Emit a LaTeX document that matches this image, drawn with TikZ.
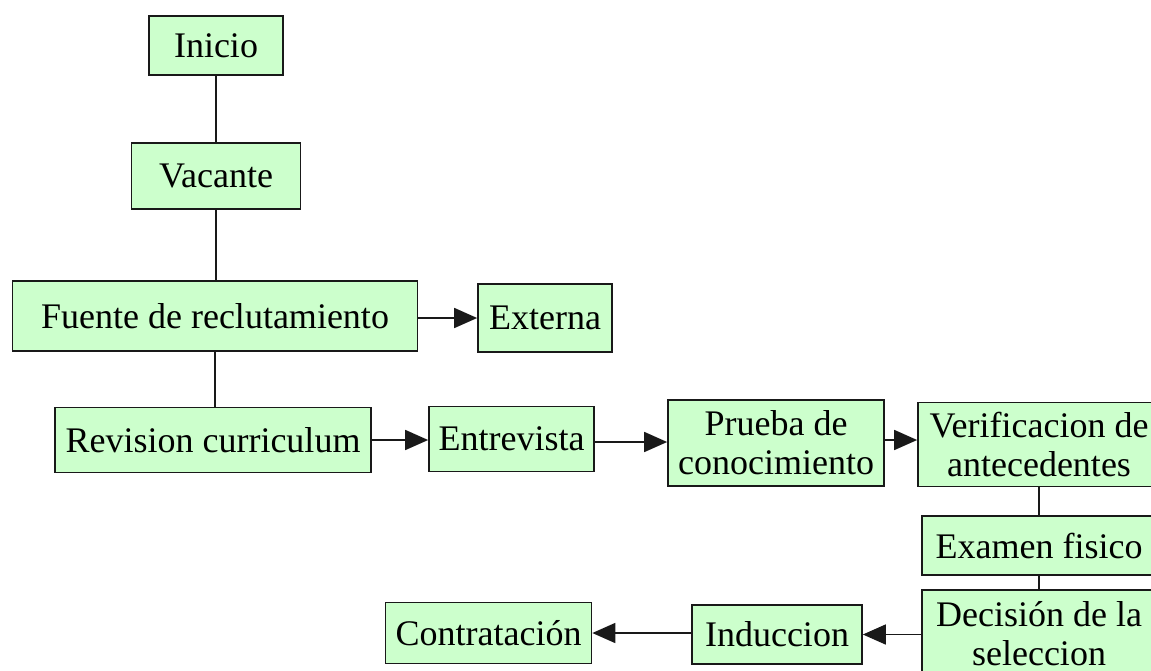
\documentclass[tikz,border=0pt]{standalone}
\usepackage{fontspec}
\setmainfont{Liberation Serif}
\usetikzlibrary{arrows.meta,positioning}
\definecolor{fGreen}{RGB}{204,255,204}
\definecolor{fEdge}{gray}{0.1}
\tikzset{
    box/.style={rectangle, draw=fEdge, fill=fGreen, line width=0.85pt, inner sep=0pt, align=center, font=\fontsize{18}{19.5}\selectfont},
    link/.style={line width=0.85pt, draw=fEdge},
    arr/.style={link, -{Triangle[length=11.5pt,width=10pt]}}
}

\begin{document}
\begin{tikzpicture}[x=0.5pt,y=-0.5pt]
\useasboundingbox (0,0) rectangle (1151,670);
\clip (0,0) rectangle (1151,670);
% main column
\node[box, minimum width=67pt,   minimum height=29.5pt] (inicio)   at (216, 45.5) {Inicio};
\node[box, minimum width=84.5pt, minimum height=33pt]   (vacante)  at (216,176)   {Vacante};
\node[box, minimum width=202.5pt,minimum height=35pt]   (fuente)   at (215,316)   {Fuente de reclutamiento};
\node[box, minimum width=67pt,   minimum height=34pt]   (externa)  at (545,318)   {Externa};
% second row
\node[box, minimum width=158pt,  minimum height=32.5pt] (revision) at (213,440)   {Revision curriculum};
\node[box, minimum width=82.5pt, minimum height=32.5pt] (entrev)   at (511.5,439) {Entrevista};
\node[box, minimum width=108pt,  minimum height=43pt]   (prueba)   at (776,443)   {Prueba de\\conocimiento};
\node[box, minimum width=121pt,  minimum height=42pt]   (verif)    at (1039,444.5){Verificacion de\\antecedentes};
% right column and bottom row
\node[box, minimum width=117pt,  minimum height=29.5pt] (examen)   at (1039,545.5){Examen fisico};
\node[box, minimum width=117pt,  minimum height=44pt]   (decision) at (1039,634)  {Decisión de la\\seleccion};
\node[box, minimum width=85pt,   minimum height=29.5pt] (induc)    at (777,634.5) {Induccion};
\node[box, minimum width=103pt,  minimum height=30.5pt] (contrat)  at (488.5,633) {Contratación};

\draw[link] (inicio) -- (vacante);
\draw[link] (vacante) -- (vacante |- fuente.north);
\draw[link] (fuente.south) -- (fuente.south |- revision.north);
\draw[arr] (fuente.east |- externa) -- (externa.west);
\draw[arr] (revision.east) -- (revision.east -| entrev.west);
\draw[arr] (entrev.east |- 0,442) -- (prueba.west |- 0,442);
\draw[arr] (prueba.east |- 0,440) -- (verif.west |- 0,440);
\draw[link] (verif) -- (examen);
\draw[link] (examen) -- (decision);
\draw[arr] (decision.west |- induc) -- (induc.east);
\draw[arr] (induc.west |- contrat) -- (contrat.east);
\end{tikzpicture}
\end{document}
